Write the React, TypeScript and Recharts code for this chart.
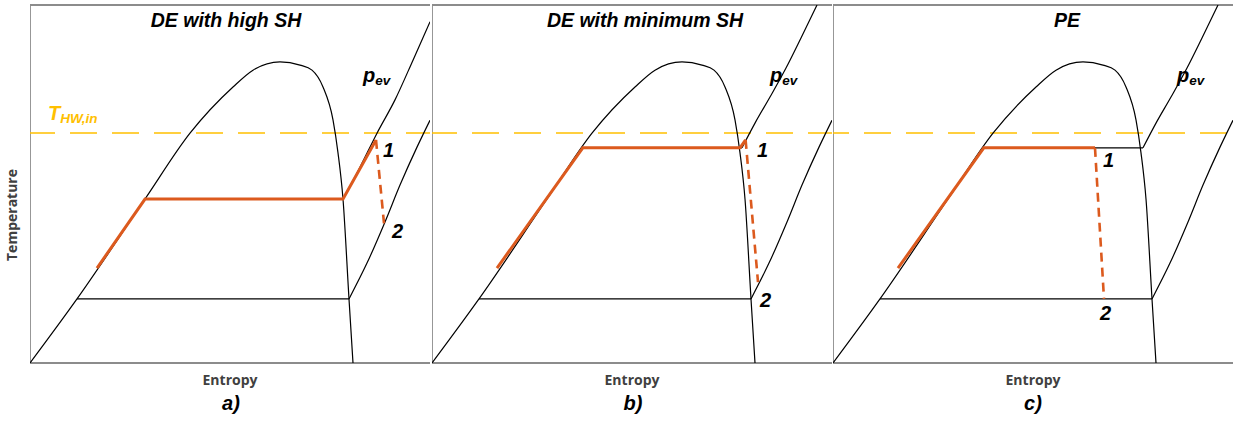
import { LineChart, Line, XAxis, YAxis, ReferenceLine, ReferenceDot } from 'recharts'

// Saturation dome, same fluid in all three diagrams (entropy and temperature in % of axis)
const domeS = [0, 11.75, 28.75, 40, 50.75, 55.75, 62.5, 67.5, 70.5, 73.25, 75.75, 77, 78.25, 79.75, 80.75]
const domeT = [0, 17.9, 45.8, 64.2, 77.1, 81.8, 84.1, 83.2, 81.8, 77.1, 67.9, 58.7, 45.8, 17.9, 0]

// Lower isobar: two-phase plateau + superheated branch
const lowPlateauS = [11.75, 79.75]
const lowPlateauT = [17.9, 17.9]
const lowVapS = [79.75, 84.25, 88.75, 92.5, 96.75, 100]
const lowVapT = [17.9, 27.9, 39.4, 49.7, 60.3, 67.8]

// p_ev isobar used in a)
const pevAPlateauS = [28.75, 78.25]
const pevAPlateauT = [45.8, 45.8]
const pevAVapS = [78.25, 82.5, 86.75, 91.25, 95.75, 100]
const pevAVapT = [45.8, 54.7, 64.2, 73.5, 84.6, 95.3]

// p_ev isobar used in b) and c)
const pevBPlateauS = [37.7, 77.5]
const pevBPlateauT = [60.1, 60.1]
const pevBVapS = [77.5, 80.75, 84.5, 88.5, 92.25, 96.25]
const pevBVapT = [60.1, 67, 74.3, 82.4, 90.8, 100]

// Hot-water inlet temperature
const tHwIn = 64.25

// Working-fluid path (heating, evaporation, superheat) and expansion 1 -> 2
const pathAS = [16.75, 28.75, 78.25, 86.5]
const pathAT = [26.5, 45.8, 45.8, 62.3]
const expAS = [86.5, 88.5]
const expAT = [62.3, 39]

const pathBS = [16.25, 37.7, 77, 78.4]
const pathBT = [26.5, 60.1, 60.1, 62.3]
const expBS = [78.4, 81.5]
const expBT = [62.3, 22.6]

const pathCS = [16.25, 37.7, 65.5]
const pathCT = [26.5, 60.1, 60.1]
const expCS = [65.5, 67.75]
const expCT = [60.1, 17.9]

const titles = ['DE with high SH', 'DE with minimum SH', 'PE']
const captions = ['a)', 'b)', 'c)']

const pts = (s: number[], T: number[]) => s.map((v, i) => ({ s: v, T: T[i] }))

const FONT = '"Liberation Sans", Arial, sans-serif'
const AXIS_FONT = '"Open Sans", "Liberation Sans", sans-serif'
const ORANGE = '#DC5A1E'
const YELLOW = '#FFC000'
const FRAME = '#8c8c8c'

const W = 400
const H = 421

type Note = { s: number; T: number; main: string; sub?: string; color?: string }

const panels = [
  {
    left: 30, titleX: 226, captionX: 231, dashOffset: 2,
    pev: [pts(pevAPlateauS, pevAPlateauT), pts(pevAVapS, pevAVapT)],
    path: pts(pathAS, pathAT), exp: pts(expAS, expAT),
    notes: [
      { s: 4.5, T: 67.9, main: 'T', sub: 'HW,in', color: YELLOW },
      { s: 83.25, T: 78.5, main: 'p', sub: 'ev' },
      { s: 88.25, T: 57.5, main: '1' },
      { s: 90.5, T: 35, main: '2' },
    ] as Note[],
  },
  {
    left: 432, titleX: 645, captionX: 633, dashOffset: 2,
    pev: [pts(pevBPlateauS, pevBPlateauT), pts(pevBVapS, pevBVapT)],
    path: pts(pathBS, pathBT), exp: pts(expBS, expBT),
    notes: [
      { s: 84.5, T: 78.5, main: 'p', sub: 'ev' },
      { s: 81.25, T: 57.5, main: '1' },
      { s: 82, T: 15.6, main: '2' },
    ] as Note[],
  },
  {
    left: 833, titleX: 1067, captionX: 1033, dashOffset: 11,
    pev: [pts(pevBPlateauS, pevBPlateauT), pts(pevBVapS, pevBVapT)],
    path: pts(pathCS, pathCT), exp: pts(expCS, expCT),
    notes: [
      { s: 86, T: 78.5, main: 'p', sub: 'ev' },
      { s: 67.5, T: 54.7, main: '1' },
      { s: 66.75, T: 12, main: '2' },
    ] as Note[],
  },
]

function noteShape(n: Note) {
  return (p: any) => (
    <text x={p.cx} y={p.cy} fill={n.color ?? '#000'} fontFamily={FONT} fontWeight="bold" fontStyle="italic" fontSize={20}>
      {n.main}
      {n.sub && <tspan fontSize={13.5} dy={3}>{n.sub}</tspan>}
    </text>
  )
}

function curve(data: { s: number; T: number }[], key: string, opts: any = {}) {
  return (
    <Line
      key={key}
      data={data}
      dataKey="T"
      type={opts.type ?? 'linear'}
      stroke={opts.stroke ?? '#000'}
      strokeWidth={opts.width ?? 1.2}
      strokeDasharray={opts.dash}
      dot={false}
      activeDot={false}
      isAnimationActive={false}
    />
  )
}

function Panel({ p }: { p: (typeof panels)[number] }) {
  return (
    <div style={{ position: 'absolute', left: p.left, top: 0 }}>
      <LineChart width={W} height={H} margin={{ top: 5, right: 0, bottom: 58, left: 0 }}>
        <XAxis type="number" dataKey="s" domain={[0, 100]} hide allowDataOverflow />
        <YAxis type="number" domain={[0, 100]} hide allowDataOverflow />
        <ReferenceLine x={0} stroke={FRAME} strokeWidth={1.8} />
        <ReferenceLine y={0} stroke={FRAME} strokeWidth={1.8} />
        <ReferenceLine y={100} stroke={FRAME} strokeWidth={1.8} />
        <ReferenceLine y={tHwIn} stroke={YELLOW} strokeWidth={1.6} strokeDasharray="27 15" strokeDashoffset={p.dashOffset} />
        {curve(pts(domeS, domeT), 'dome', { type: 'monotone' })}
        {curve(pts(lowPlateauS, lowPlateauT), 'lowPlateau')}
        {curve(pts(lowVapS, lowVapT), 'lowVap', { type: 'monotone' })}
        {curve(p.pev[0], 'pevPlateau')}
        {curve(p.pev[1], 'pevVap', { type: 'monotone' })}
        {curve(p.path, 'path', { stroke: ORANGE, width: 3 })}
        {curve(p.exp, 'exp', { stroke: ORANGE, width: 2.6, dash: '9 6' })}
        {p.notes.map((n, i) => (
          <ReferenceDot key={i} x={n.s} y={n.T} r={0} shape={noteShape(n)} />
        ))}
      </LineChart>
    </div>
  )
}

export default function App() {
  return (
    <div style={{ position: 'absolute', left: 0, top: 0, width: 1233, height: 421, background: '#fff', overflow: 'hidden' }}>
      {panels.map((p, i) => (
        <Panel key={i} p={p} />
      ))}
      <svg width={1233} height={421} style={{ position: 'absolute', left: 0, top: 0, pointerEvents: 'none' }}>
        {panels.map((p, i) => (
          <g key={i}>
            <text x={p.titleX} y={27} textAnchor="middle" fontFamily={FONT} fontWeight="bold" fontStyle="italic" fontSize={19.5}>
              {titles[i]}
            </text>
            <text x={p.left + W / 2} y={385} textAnchor="middle" fontFamily={AXIS_FONT} fontWeight={700} fontSize={14} fill="#404040">
              Entropy
            </text>
            <text x={p.captionX} y={410} textAnchor="middle" fontFamily={FONT} fontWeight="bold" fontStyle="italic" fontSize={20}>
              {captions[i]}
            </text>
          </g>
        ))}
        <text transform="translate(17,215) rotate(-90)" textAnchor="middle" fontFamily={AXIS_FONT} fontWeight={700} fontSize={14} fill="#404040">
          Temperature
        </text>
      </svg>
    </div>
  )
}
